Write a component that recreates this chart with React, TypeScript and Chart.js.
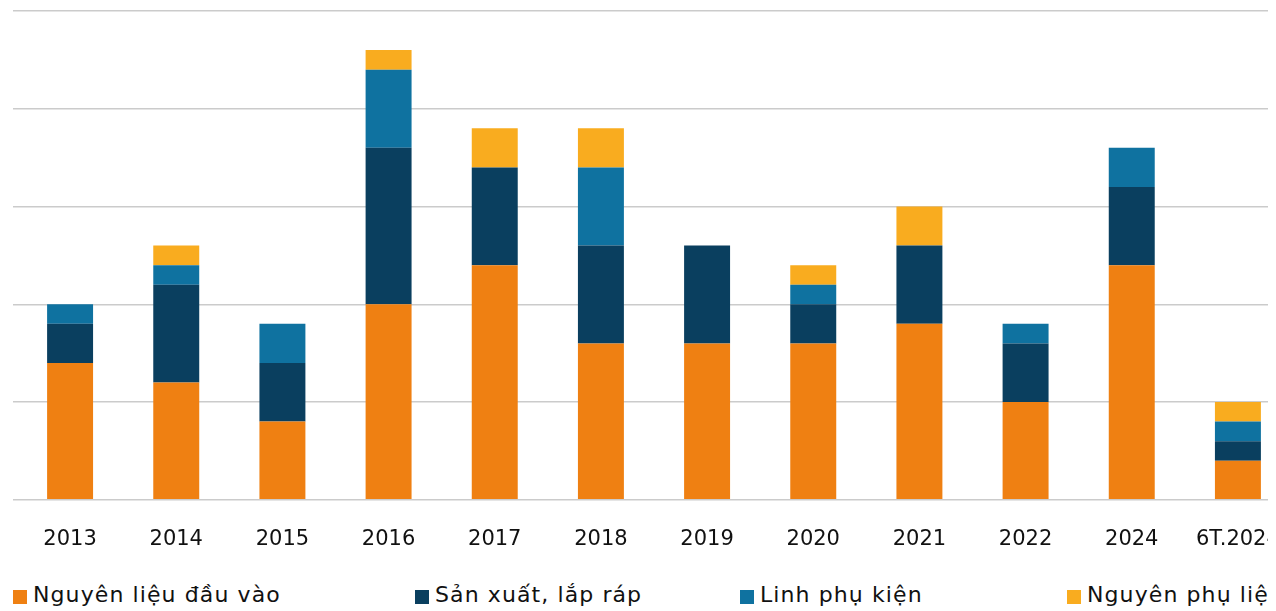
import React, { useEffect, useRef } from "react";
import { Chart, registerables } from "chart.js";

Chart.register(...registerables);

const categories = ["2013", "2014", "2015", "2016", "2017", "2018", "2019", "2020", "2021", "2022", "2024", "6T.2024"];
const seriesNames = ["Nguyên liệu đầu vào", "Sản xuất, lắp ráp", "Linh phụ kiện", "Nguyên phụ liệu"];
const nguyenLieuDauVao = [7, 6, 4, 10, 12, 8, 8, 8, 9, 5, 12, 2];
const sanXuatLapRap = [2, 5, 3, 8, 5, 5, 5, 2, 4, 3, 4, 1];
const linhPhuKien = [1, 1, 2, 4, 0, 4, 0, 1, 0, 1, 2, 1];
const nguyenPhuLieu = [0, 1, 0, 1, 2, 2, 0, 1, 2, 0, 0, 1];
const colors = ["#EF8012", "#0A3F5F", "#0F72A0", "#F9AC1F"];
const yMax = 25;
const yStep = 5;

const FONT = "'DejaVu Sans', sans-serif";

export default function App() {
  const ref = useRef<HTMLCanvasElement | null>(null);

  useEffect(() => {
    if (!ref.current) return;
    const values = [nguyenLieuDauVao, sanXuatLapRap, linhPhuKien, nguyenPhuLieu];
    const chart = new Chart(ref.current, {
      type: "bar",
      data: {
        labels: categories,
        datasets: values.map((v, i) => ({
          label: seriesNames[i],
          data: v,
          backgroundColor: colors[i],
          borderWidth: 0,
          categoryPercentage: 1,
          barPercentage: 0.433,
        })),
      },
      options: {
        responsive: false,
        animation: false,
        layout: { padding: { left: 5, right: 1, top: 3, bottom: 6 } },
        plugins: { legend: { display: false }, tooltip: { enabled: false } },
        scales: {
          x: {
            stacked: true,
            grid: {
              display: true,
              drawOnChartArea: false,
              drawTicks: true,
              tickLength: 27,
              color: "rgba(0,0,0,0)",
            },
            border: { display: false },
            ticks: {
              padding: 0,
              color: "#111111",
              font: { family: FONT, size: 21 },
              maxRotation: 0,
              autoSkip: false,
            },
          },
          y: {
            stacked: true,
            min: 0,
            max: yMax,
            grid: { color: "#cbcbcb", lineWidth: 1.5, drawTicks: true, tickLength: 4 },
            border: { display: false },
            ticks: { display: false, stepSize: yStep },
          },
        },
      },
    });
    return () => chart.destroy();
  }, []);

  const legendLefts = [5, 407, 732, 1059];

  return (
    <div style={{ position: "relative", width: 1268, height: 603, overflow: "hidden" }}>
      <canvas ref={ref} width={1284} height={550} style={{ position: "absolute", left: 0, top: 0, width: 1284, height: 550 }} />
      {seriesNames.map((name, i) => (
        <div key={name} style={{ position: "absolute", left: legendLefts[i], top: 576, whiteSpace: "nowrap" }}>
          <span style={{ position: "absolute", left: 0, top: 6, width: 14, height: 14, background: colors[i] }} />
          <span
            style={{
              position: "absolute",
              left: 20,
              top: 0,
              fontFamily: FONT,
              fontSize: 22,
              lineHeight: "22px",
              letterSpacing: "1.1px",
              color: "#111111",
            }}
          >
            {name}
          </span>
        </div>
      ))}
    </div>
  );
}
